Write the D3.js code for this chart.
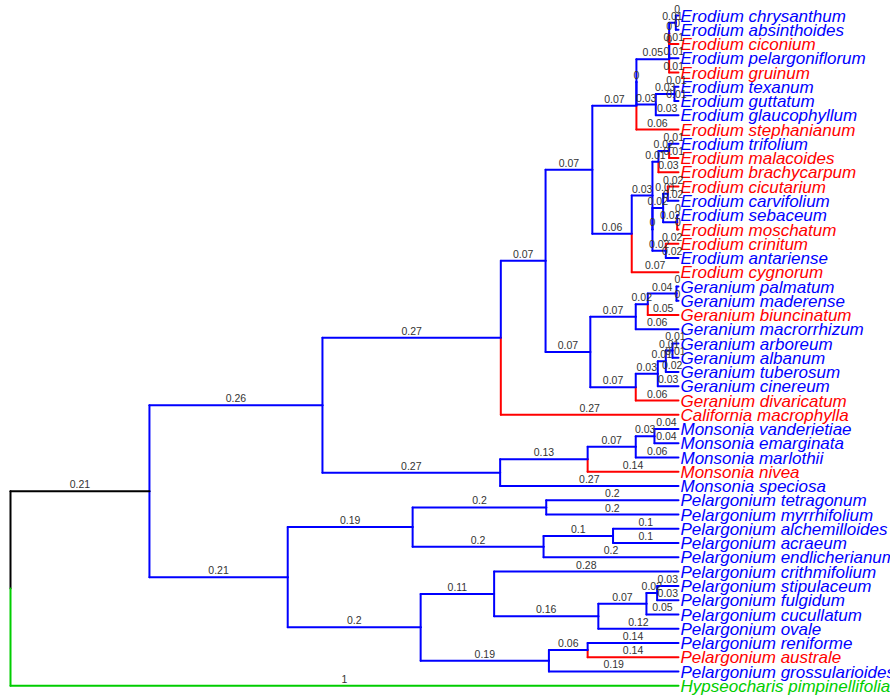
<!DOCTYPE html>
<html><head><meta charset="utf-8">
<script src="https://cdn.jsdelivr.net/npm/d3@7"></script>
<style>body{margin:0;background:#fff}svg{display:block}</style>
</head><body>
<svg id="chart" width="890" height="695"></svg>
<script>
// Tip labels, top to bottom
const tipNames = [
 "Erodium chrysanthum","Erodium absinthoides","Erodium ciconium","Erodium pelargoniflorum","Erodium gruinum",
 "Erodium texanum","Erodium guttatum","Erodium glaucophyllum","Erodium stephanianum","Erodium trifolium",
 "Erodium malacoides","Erodium brachycarpum","Erodium cicutarium","Erodium carvifolium","Erodium sebaceum",
 "Erodium moschatum","Erodium crinitum","Erodium antariense","Erodium cygnorum","Geranium palmatum",
 "Geranium maderense","Geranium biuncinatum","Geranium macrorrhizum","Geranium arboreum","Geranium albanum",
 "Geranium tuberosum","Geranium cinereum","Geranium divaricatum","California macrophylla","Monsonia vanderietiae",
 "Monsonia emarginata","Monsonia marlothii","Monsonia nivea","Monsonia speciosa","Pelargonium tetragonum",
 "Pelargonium myrrhifolium","Pelargonium alchemilloides","Pelargonium acraeum","Pelargonium endlicherianum","Pelargonium crithmifolium",
 "Pelargonium stipulaceum","Pelargonium fulgidum","Pelargonium cucullatum","Pelargonium ovale","Pelargonium reniforme",
 "Pelargonium australe","Pelargonium grossularioides","Hypseocharis pimpinellifolia"
];
// Tip groups (colour class)
const redTips = ["Erodium ciconium","Erodium gruinum","Erodium stephanianum","Erodium malacoides","Erodium brachycarpum",
 "Erodium cicutarium","Erodium moschatum","Erodium crinitum","Erodium cygnorum","Geranium biuncinatum",
 "Geranium divaricatum","California macrophylla","Monsonia nivea","Pelargonium australe"];
const greenTips = ["Hypseocharis pimpinellifolia"];
const blackEdges = ["A"];

// Edges: [parent, child, branch length]
const edges = [
 ["root","A",0.208],["root","Hypseocharis pimpinellifolia",1.0],
 ["A","B",0.259],["A","P",0.207],
 ["B","C",0.267],["B","M",0.266],
 ["C","EG",0.067],["C","California macrophylla",0.266],
 ["EG","ER",0.070],["EG","GE",0.067],
 ["ER","U",0.066],["ER","L",0.059],
 ["U","V",0],["U","Erodium stephanianum",0.063],
 ["V","W",0.049],["V","X",0.029],
 ["W","N3",0],["W","Erodium gruinum",0.014],
 ["N3","N2",0],["N3","Erodium pelargoniflorum",0.014],
 ["N2","N1",0.010],["N2","Erodium ciconium",0.014],
 ["N1","Erodium chrysanthum",0.004],["N1","Erodium absinthoides",0.004],
 ["X","Y",0.028],["X","Erodium glaucophyllum",0.034],
 ["Y","Erodium texanum",0.006],["Y","Erodium guttatum",0.006],
 ["L","L1",0.031],["L","Erodium cygnorum",0.070],
 ["L1","K1",0.009],["L1","K2",0],
 ["K1","K1a",0.016],["K1","Erodium brachycarpum",0.030],
 ["K1a","Erodium trifolium",0.014],["K1a","Erodium malacoides",0.014],
 ["K2","Ka",0.016],["K2","Kb",0.020],
 ["Ka","Ka1",0.007],["Ka","Ka2",0.021],
 ["Ka1","Erodium cicutarium",0.016],["Ka1","Erodium carvifolium",0.016],
 ["Ka2","Erodium sebaceum",0.002],["Ka2","Erodium moschatum",0.002],
 ["Kb","Erodium crinitum",0.019],["Kb","Erodium antariense",0.019],
 ["GE","G1",0.068],["GE","G2",0.068],
 ["G1","G1a",0.018],["G1","Geranium macrorrhizum",0.064],
 ["G1a","G1b",0.043],["G1a","Geranium biuncinatum",0.046],
 ["G1b","Geranium palmatum",0.003],["G1b","Geranium maderense",0.003],
 ["G2","G2a",0.033],["G2","Geranium divaricatum",0.064],
 ["G2a","G2b",0.012],["G2a","Geranium cinereum",0.031],
 ["G2b","G2c",0.010],["G2b","Geranium tuberosum",0.019],
 ["G2c","Geranium arboreum",0.009],["G2c","Geranium albanum",0.009],
 ["M","M1",0.131],["M","Monsonia speciosa",0.267],
 ["M1","M2",0.072],["M1","Monsonia nivea",0.136],
 ["M2","M3",0.028],["M2","Monsonia marlothii",0.064],
 ["M3","Monsonia vanderietiae",0.036],["M3","Monsonia emarginata",0.036],
 ["P","P1",0.187],["P","P2",0.199],
 ["P1","P1a",0.200],["P1","P1b",0.196],
 ["P1a","Pelargonium tetragonum",0.198],["P1a","Pelargonium myrrhifolium",0.198],
 ["P1b","P1c",0.104],["P1b","Pelargonium endlicherianum",0.202],
 ["P1c","Pelargonium alchemilloides",0.098],["P1c","Pelargonium acraeum",0.098],
 ["P2","P2a",0.110],["P2","P2b",0.192],
 ["P2a","Pelargonium crithmifolium",0.276],["P2a","P2c",0.156],
 ["P2c","P2d",0.072],["P2c","Pelargonium ovale",0.120],
 ["P2d","P2e",0.016],["P2d","Pelargonium cucullatum",0.048],
 ["P2e","Pelargonium stipulaceum",0.032],["P2e","Pelargonium fulgidum",0.032],
 ["P2b","P2f",0.058],["P2b","Pelargonium grossularioides",0.194],
 ["P2f","Pelargonium reniforme",0.136],["P2f","Pelargonium australe",0.136]
];

const COL = {blue:"#0000FF", red:"#FF0000", green:"#00CD00", black:"#000000"};

const rows = [{id:"root", parent:null, len:0}].concat(edges.map(e => ({id:e[1], parent:e[0], len:e[2]})));
const root = d3.stratify().id(d => d.id).parentId(d => d.parent)(rows);

const x = d3.scaleLinear().domain([0, 1]).range([10.5, 678.5]);
const y = d3.scaleLinear().domain([0, tipNames.length - 1]).range([15.5, 685.7]);

root.eachBefore(n => { n.dist = n.parent ? n.parent.dist + n.data.len : 0; });
root.eachAfter(n => {
  n.yy = n.children ? d3.mean(n.children, c => c.yy) : y(tipNames.indexOf(n.id));
});

function colorOf(n) {
  if (redTips.includes(n.id)) return COL.red;
  if (greenTips.includes(n.id)) return COL.green;
  if (blackEdges.includes(n.id)) return COL.black;
  return COL.blue;
}

const svg = d3.select("#chart");
const nodes = root.descendants().filter(n => n.parent);

const gE = svg.append("g").attr("fill","none").attr("stroke-width",2).attr("stroke-linecap","round");
// vertical segments (parent y -> child y, child colour)
gE.selectAll("line.v").data(nodes).join("line").attr("class","v")
  .attr("x1", n => x(n.parent.dist)).attr("x2", n => x(n.parent.dist))
  .attr("y1", n => n.parent.yy).attr("y2", n => n.yy)
  .attr("stroke", colorOf);
// horizontal segments
gE.selectAll("line.h").data(nodes).join("line").attr("class","h")
  .attr("x1", n => x(n.parent.dist)).attr("x2", n => x(n.dist))
  .attr("y1", n => n.yy).attr("y2", n => n.yy)
  .attr("stroke", colorOf);

// tip labels
svg.append("g").attr("font-family","'Liberation Sans', Arial, sans-serif")
  .attr("font-size","17px").attr("font-style","italic")
  .selectAll("text").data(root.leaves()).join("text")
  .attr("x", n => x(n.dist) + 2).attr("y", n => n.yy).attr("dy","0.36em")
  .attr("fill", colorOf).text(n => n.id);

// edge labels
svg.append("g").attr("font-family","'Liberation Sans', Arial, sans-serif")
  .attr("font-size","10.5px").attr("fill","#333").attr("text-anchor","middle")
  .selectAll("text").data(nodes).join("text")
  .attr("x", n => (x(n.parent.dist) + x(n.dist)) / 2).attr("y", n => n.yy - 3)
  .text(n => String(+n.data.len.toFixed(2)));
</script>
</body></html>
